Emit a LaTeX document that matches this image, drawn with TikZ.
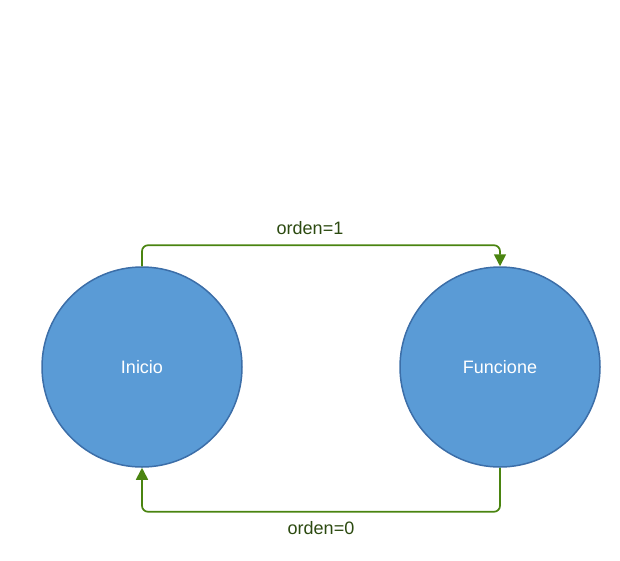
\documentclass[tikz,border=0pt]{standalone}
\usepackage{fontspec}
\setmainfont{Liberation Sans}
\usetikzlibrary{arrows.meta}
\definecolor{cfill}{HTML}{5A9BD6}
\definecolor{cstroke}{HTML}{3C6EA8}
\definecolor{cline}{HTML}{4A8410}
\definecolor{ctext}{HTML}{2C4A10}
\tikzset{
  state/.style={circle, draw=cstroke, line width=1.5pt, fill=cfill, minimum size=200pt, inner sep=0pt, text=white, font=\fontsize{18}{21}\selectfont},
  conn/.style={draw=cline, line width=1.7pt, rounded corners=6pt, -{Triangle[length=12pt,width=12pt]}},
  lbl/.style={text=ctext, font=\fontsize{18}{21}\selectfont}
}
\begin{document}
\begin{tikzpicture}[x=1pt,y=-1pt]
\useasboundingbox (0,0) rectangle (620,560);
\node[state] (ini) at (142,367) {Inicio};
\node[state] (fun) at (500,367) {Funcione};
\draw[conn] (ini.north) -- ++(0,-21) -| (fun.north);
\draw[conn] (fun.south) -- ++(0,44) -| (ini.south);
\node[lbl] (l1) at (310,228) {orden=1};
\node[lbl] (l0) at (321,528) {orden=0};
\end{tikzpicture}
\end{document}
